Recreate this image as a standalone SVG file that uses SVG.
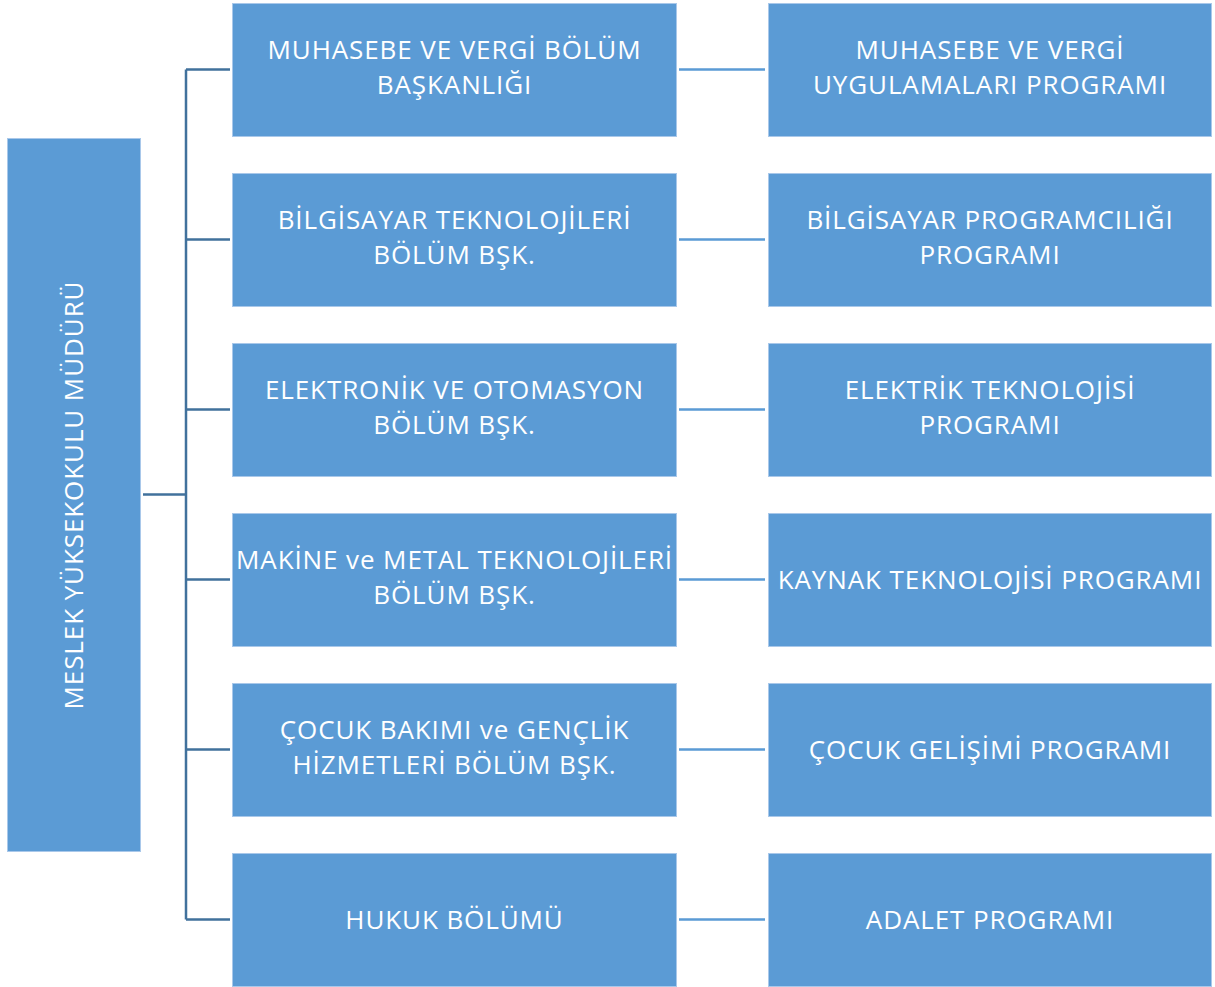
<svg xmlns="http://www.w3.org/2000/svg" width="1215" height="987" viewBox="0 0 1215 987">
<style>
.box{fill:#5B9BD5;stroke:#A9C8EA;stroke-width:1}
.t{font-family:"Open Sans","Noto Sans",sans-serif;font-size:26px;letter-spacing:0.9px;fill:#FFFFFF;text-anchor:middle}
.lc{stroke:#41719C;stroke-width:2.5;fill:none}
.rc{stroke:#5B9BD5;stroke-width:2.5;fill:none}
</style>
<rect width="1215" height="987" fill="#FFFFFF"/>
<g id="connectors">
<path class="lc" d="M143 494.5H186M186 69.5V919.5M186 69.5H230M186 239.5H230M186 409.5H230M186 579.5H230M186 749.5H230M186 919.5H230"/>
<path class="rc" d="M679 69.5H765M679 239.5H765M679 409.5H765M679 579.5H765M679 749.5H765M679 919.5H765"/>
</g>
<g id="root">
<rect class="box" x="7.5" y="138.5" width="133" height="713"/>
<text class="t" transform="translate(83,495) rotate(-90)">MESLEK YÜKSEKOKULU MÜDÜRÜ</text>
</g>
<g id="d1"><rect class="box" x="232.5" y="3.5" width="444" height="133"/>
<text class="t" x="454.5" y="59">MUHASEBE VE VERGİ BÖLÜM</text><text class="t" x="454.5" y="94">BAŞKANLIĞI</text></g>
<g id="d2"><rect class="box" x="232.5" y="173.5" width="444" height="133"/>
<text class="t" x="454.5" y="229">BİLGİSAYAR TEKNOLOJİLERİ</text><text class="t" x="454.5" y="264">BÖLÜM BŞK.</text></g>
<g id="d3"><rect class="box" x="232.5" y="343.5" width="444" height="133"/>
<text class="t" x="454.5" y="399">ELEKTRONİK VE OTOMASYON</text><text class="t" x="454.5" y="434">BÖLÜM BŞK.</text></g>
<g id="d4"><rect class="box" x="232.5" y="513.5" width="444" height="133"/>
<text class="t" x="454.5" y="569">MAKİNE ve METAL TEKNOLOJİLERİ</text><text class="t" x="454.5" y="604">BÖLÜM BŞK.</text></g>
<g id="d5"><rect class="box" x="232.5" y="683.5" width="444" height="133"/>
<text class="t" x="454.5" y="739">ÇOCUK BAKIMI ve GENÇLİK</text><text class="t" x="454.5" y="774">HİZMETLERİ BÖLÜM BŞK.</text></g>
<g id="d6"><rect class="box" x="232.5" y="853.5" width="444" height="133"/>
<text class="t" x="454.5" y="929">HUKUK BÖLÜMÜ</text></g>
<g id="p1"><rect class="box" x="768.5" y="3.5" width="443" height="133"/>
<text class="t" x="990" y="59">MUHASEBE VE VERGİ</text><text class="t" x="990" y="94">UYGULAMALARI PROGRAMI</text></g>
<g id="p2"><rect class="box" x="768.5" y="173.5" width="443" height="133"/>
<text class="t" x="990" y="229">BİLGİSAYAR PROGRAMCILIĞI</text><text class="t" x="990" y="264">PROGRAMI</text></g>
<g id="p3"><rect class="box" x="768.5" y="343.5" width="443" height="133"/>
<text class="t" x="990" y="399">ELEKTRİK TEKNOLOJİSİ</text><text class="t" x="990" y="434">PROGRAMI</text></g>
<g id="p4"><rect class="box" x="768.5" y="513.5" width="443" height="133"/>
<text class="t" x="990" y="589">KAYNAK TEKNOLOJİSİ PROGRAMI</text></g>
<g id="p5"><rect class="box" x="768.5" y="683.5" width="443" height="133"/>
<text class="t" x="990" y="759">ÇOCUK GELİŞİMİ PROGRAMI</text></g>
<g id="p6"><rect class="box" x="768.5" y="853.5" width="443" height="133"/>
<text class="t" x="990" y="929">ADALET PROGRAMI</text></g>
</svg>
